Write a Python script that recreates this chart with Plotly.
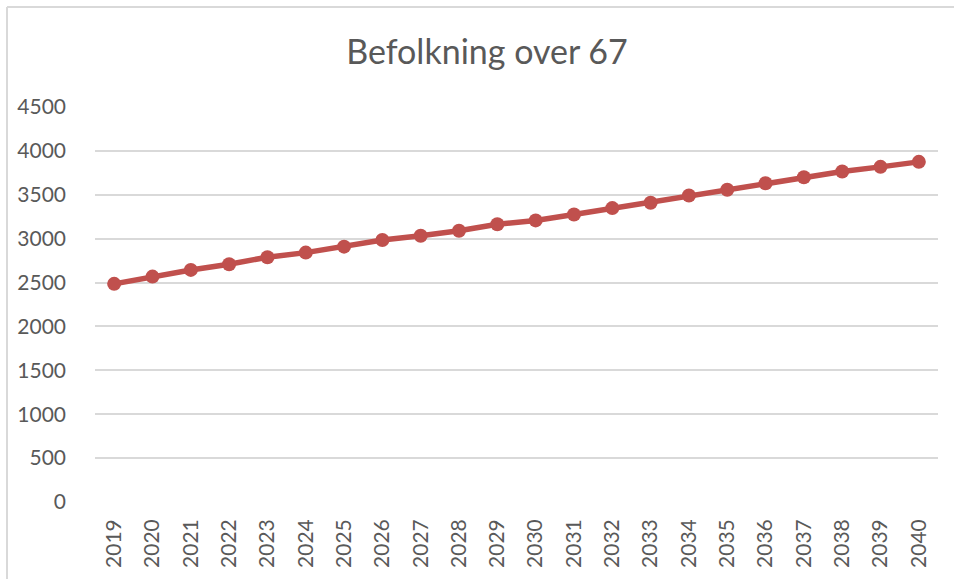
import plotly.graph_objects as go

years = [str(y) for y in range(2019, 2041)]
values = [2485, 2568, 2644, 2709, 2789, 2841, 2909, 2985, 3034, 3091, 3164,
          3208, 3276, 3348, 3409, 3492, 3557, 3632, 3700, 3765, 3818, 3875]
y_ticks = list(range(0, 4501, 500))
title_text = "Befolkning over 67"

W, H = 954, 579
L, R, T, B = 95, 16, 107, 77
pw, ph = W - L - R, H - T - B

def px(x):
    return (x - L) / pw

def py(y):
    return (H - B - y) / ph

fig = go.Figure()
fig.add_trace(go.Scatter(
    x=years, y=values, mode="lines+markers",
    line=dict(color="#C0504D", width=5.5),
    marker=dict(color="#C0504D", size=14),
    showlegend=False, hoverinfo="x+y",
))

font_family = "Lato, Carlito, Calibri, sans-serif"
fig.update_layout(
    width=W, height=H,
    margin=dict(l=L, r=R, t=T, b=B, pad=0),
    paper_bgcolor="white", plot_bgcolor="white",
    title=dict(text=title_text, x=487 / W, xanchor="center",
               y=1 - 52 / H, yanchor="middle", yref="container", xref="container",
               font=dict(family=font_family, size=34, color="#595959")),
    font=dict(family=font_family, color="#595959"),
    xaxis=dict(type="category", range=[-0.5, len(years) - 0.5],
               tickangle=-90, tickfont=dict(size=21, color="#595959"),
               showgrid=False, zeroline=False, showline=False,
               ticks="", ticklabelstandoff=12),
    yaxis=dict(range=[0, 4500], tickvals=y_ticks, ticktext=[str(v) for v in y_ticks],
               tickfont=dict(size=21, color="#595959"),
               showgrid=True, gridcolor="#D9D9D9", gridwidth=1.7,
               zeroline=False, showline=False, ticks="", ticklabelstandoff=28),
    shapes=[
        dict(type="line", xref="paper", yref="paper",
             x0=px(7), x1=px(954), y0=py(7), y1=py(7),
             line=dict(color="#D9D9D9", width=2)),
        dict(type="line", xref="paper", yref="paper",
             x0=px(7), x1=px(7), y0=py(7), y1=py(579),
             line=dict(color="#D9D9D9", width=2)),
    ],
)

fig.write_html("out.html", config={"displayModeBar": False},
               post_script="document.body.style.margin='0';")
